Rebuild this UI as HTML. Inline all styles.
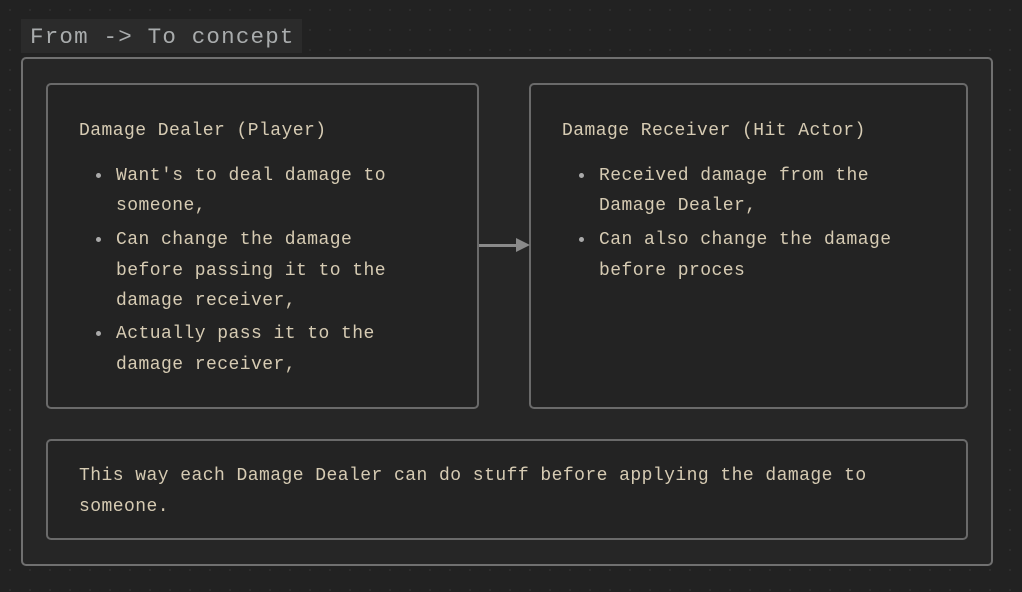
<!DOCTYPE html>
<html><head><style>
body{margin:0;width:1022px;height:592px;background:#222;background-image:radial-gradient(#2e2e2e 1px,transparent 1.2px);background-size:20px 20px;position:relative;overflow:hidden;font-family:"Liberation Mono",monospace;}
.b{position:absolute;border:2px solid #6a6a6a;border-radius:5px;box-sizing:border-box;}
.t{position:absolute;color:#d6cbb3;font-size:18px;letter-spacing:0.45px;white-space:pre;line-height:20px;}
.d{position:absolute;width:5px;height:5px;border-radius:50%;background:#aaa;}
</style></head><body>
<div style="position:absolute;left:21px;top:19px;width:281px;height:34px;background:#2b2b2b;"></div>
<div style="position:absolute;left:30px;top:22px;color:#a9acad;font-size:22.5px;letter-spacing:1.2px;line-height:30px;white-space:pre;">From -&gt; To concept</div>
<div class="b" style="left:21px;top:57px;width:972px;height:509px;background:#262626;border-color:#707070;"></div>
<div class="b" style="left:46px;top:83px;width:433px;height:326px;background:#232323;"></div>
<div class="b" style="left:529px;top:83px;width:439px;height:326px;background:#232323;"></div>
<div class="b" style="left:46px;top:439px;width:922px;height:101px;background:#232323;"></div>
<div style="position:absolute;left:479px;top:244px;width:38px;height:3px;background:#8a8a8a;"></div>
<div style="position:absolute;left:516px;top:238px;width:0;height:0;border-left:14px solid #8a8a8a;border-top:7.5px solid transparent;border-bottom:7.5px solid transparent;"></div>

<div class="t" style="left:79px;top:121px;">Damage Dealer (Player)</div>
<div class="d" style="left:96px;top:173px;"></div>
<div class="t" style="left:116px;top:166px;">Want's to deal damage to</div>
<div class="t" style="left:116px;top:196px;">someone,</div>
<div class="d" style="left:96px;top:237px;"></div>
<div class="t" style="left:116px;top:230px;">Can change the damage</div>
<div class="t" style="left:116px;top:261px;">before passing it to the</div>
<div class="t" style="left:116px;top:291px;">damage receiver,</div>
<div class="d" style="left:96px;top:331px;"></div>
<div class="t" style="left:116px;top:324px;">Actually pass it to the</div>
<div class="t" style="left:116px;top:355px;">damage receiver,</div>

<div class="t" style="left:562px;top:121px;">Damage Receiver (Hit Actor)</div>
<div class="d" style="left:579px;top:173px;"></div>
<div class="t" style="left:599px;top:166px;">Received damage from the</div>
<div class="t" style="left:599px;top:196px;">Damage Dealer,</div>
<div class="d" style="left:579px;top:237px;"></div>
<div class="t" style="left:599px;top:230px;">Can also change the damage</div>
<div class="t" style="left:599px;top:261px;">before proces</div>

<div class="t" style="left:79px;top:466px;">This way each Damage Dealer can do stuff before applying the damage to</div>
<div class="t" style="left:79px;top:497px;">someone.</div>
</body></html>
